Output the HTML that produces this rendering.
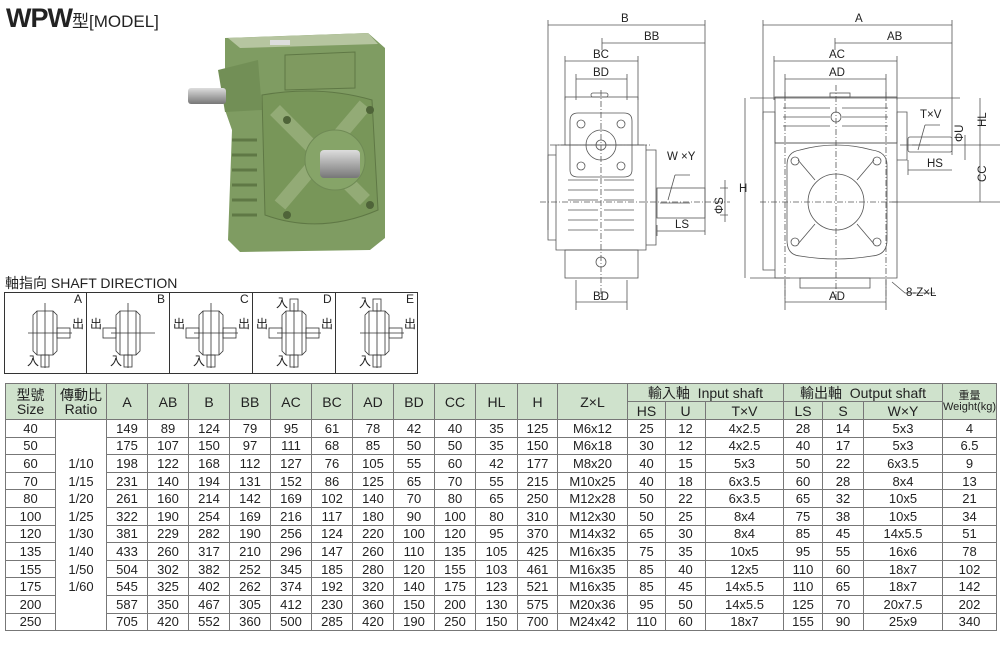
<!DOCTYPE html>
<html><head><meta charset="utf-8">
<style>
body{margin:0;width:1000px;height:645px;background:#fff;position:relative;overflow:hidden;font-family:"Liberation Sans","Noto Sans CJK TC",sans-serif;color:#222}
.abs{position:absolute}
table{border-collapse:collapse;position:absolute;left:5px;top:383px;table-layout:fixed;font-size:13px}
td,th{border:1px solid #777;text-align:center;padding:0;font-weight:normal;line-height:1}
th{background:#cfe2cc;height:17px;font-size:14px}
td{height:16.6px}
td.r{border-top:none;border-bottom:none}
</style></head><body>
<div class="abs" style="left:6px;top:3px;font-size:27px;font-weight:bold;letter-spacing:-1px">WPW<span style="font-size:17px;font-weight:normal;letter-spacing:0">型[MODEL]</span></div>

<!-- photo -->
<svg class="abs" style="left:180px;top:25px" width="215" height="235" viewBox="180 25 215 235">
<defs><linearGradient id="sh" x1="0" y1="0" x2="0" y2="1"><stop offset="0" stop-color="#ddd"/><stop offset=".5" stop-color="#aaa"/><stop offset="1" stop-color="#777"/></linearGradient></defs>
<path d="M225 38 L368 33 L385 48 L385 238 L370 250 L240 252 L228 240 L232 130 L225 110Z" fill="#7f9c62"/>
<path d="M228 38 L368 33 L378 44 L240 48Z" fill="#b6c5a0"/>
<rect x="270" y="40" width="20" height="5" fill="#ddd"/>
<path d="M285 55 L355 52 L355 88 L285 90Z" fill="#7f9a60" stroke="#5f7845"/>
<path d="M258 60 L262 110 L225 112 L218 70Z" fill="#728f56"/>
<rect x="188" y="88" width="38" height="16" rx="3" fill="url(#sh)"/>
<path d="M262 95 Q320 85 372 100 L378 210 Q320 235 265 215Z" fill="#789659" stroke="#5f7845"/>
<path d="M275 110 L365 200 M365 105 L280 205" stroke="#93ab76" stroke-width="14"/>
<circle cx="335" cy="160" r="30" fill="#86a468" stroke="#6f8a55"/>
<rect x="320" y="150" width="40" height="28" rx="4" fill="url(#sh)"/>
<g fill="#4f6439"><circle cx="287" cy="120" r="4"/><circle cx="370" cy="110" r="4"/><circle cx="287" cy="215" r="4"/><circle cx="370" cy="205" r="4"/></g>
<g stroke="#5f7845" stroke-width="3"><path d="M232 140h25M232 155h25M232 170h25M232 185h25M232 200h25M232 215h25"/></g>
</svg>

<div class="abs" style="left:5px;top:273px;font-size:14px">軸指向 SHAFT DIRECTION</div>
<svg class="abs" style="left:0;top:0" width="1000" height="380">
<rect x="4.5" y="292.5" width="413" height="81" fill="none" stroke="#333"/>
<g stroke="#333"><path d="M86.5 292v81M169.5 292v81M252.5 292v81M335.5 292v81"/></g>
<defs><g id="sym" fill="none" stroke="#333" stroke-width="0.8">
<path d="M-12 -18 L-8 -22 L8 -22 L12 -18 L12 18 L8 22 L-8 22 L-12 18Z"/>
<path d="M-8 -22V22M8 -22V22"/>
<path d="M0 -30V35M-17 0H27"/>
</g></defs>
<g font-size="12" fill="#222">
<use href="#sym" x="45" y="333"/><rect x="57" y="328" width="13" height="10" fill="none" stroke="#333" stroke-width=".8"/><rect x="41" y="355" width="8" height="12" fill="none" stroke="#333" stroke-width=".8"/>
<text x="74" y="303">A</text><text x="72" y="328">出</text><text x="27" y="365">入</text>
<use href="#sym" x="128" y="333"/><rect x="103" y="328" width="13" height="10" fill="none" stroke="#333" stroke-width=".8"/><rect x="124" y="355" width="8" height="12" fill="none" stroke="#333" stroke-width=".8"/>
<text x="157" y="303">B</text><text x="90" y="328">出</text><text x="110" y="365">入</text>
<use href="#sym" x="211" y="333"/><rect x="186" y="328" width="13" height="10" fill="none" stroke="#333" stroke-width=".8"/><rect x="223" y="328" width="13" height="10" fill="none" stroke="#333" stroke-width=".8"/><rect x="207" y="355" width="8" height="12" fill="none" stroke="#333" stroke-width=".8"/>
<text x="240" y="303">C</text><text x="173" y="328">出</text><text x="238" y="328">出</text><text x="193" y="365">入</text>
<use href="#sym" x="294" y="333"/><rect x="269" y="328" width="13" height="10" fill="none" stroke="#333" stroke-width=".8"/><rect x="306" y="328" width="13" height="10" fill="none" stroke="#333" stroke-width=".8"/><rect x="290" y="355" width="8" height="12" fill="none" stroke="#333" stroke-width=".8"/><rect x="290" y="299" width="8" height="12" fill="none" stroke="#333" stroke-width=".8"/>
<text x="323" y="303">D</text><text x="256" y="328">出</text><text x="321" y="328">出</text><text x="276" y="365">入</text><text x="276" y="307">入</text>
<use href="#sym" x="377" y="333"/><rect x="389" y="328" width="13" height="10" fill="none" stroke="#333" stroke-width=".8"/><rect x="373" y="355" width="8" height="12" fill="none" stroke="#333" stroke-width=".8"/><rect x="373" y="299" width="8" height="12" fill="none" stroke="#333" stroke-width=".8"/>
<text x="406" y="303">E</text><text x="404" y="328">出</text><text x="359" y="365">入</text><text x="359" y="307">入</text>
</g>

<g fill="none" stroke="#555" stroke-width="0.8">
<path d="M548 25H705M602 43H705M565 61H638M576 79H627M576 302H627M657 231H705"/>
<path d="M548 20V230M705 20V235M602 38V50M565 56V100M638 56V100M576 74V100M627 74V100M576 280V310M627 280V310M657 225V236"/>
<rect x="565" y="97" width="73" height="48"/>
<path d="M578 113 L624 113 Q632 113 632 121 L632 170 Q632 177 624 177 L578 177 Q570 177 570 170 L570 121 Q570 113 578 113Z"/>
<circle cx="601" cy="145" r="15"/><circle cx="601" cy="145" r="5"/>
<circle cx="581" cy="124" r="4"/><circle cx="621" cy="124" r="4"/><circle cx="581" cy="166" r="4"/><circle cx="621" cy="166" r="4"/>
<path d="M556 145H646V250H556Z M548 155H556V240H548Z M646 150H656V245H646Z"/>
<path d="M568 180H598M568 190H598M568 200H598M568 210H598M568 220H598M568 230H598M604 180H634M604 190H634M604 200H634M604 210H634M604 220H634M604 230H634"/>
<rect x="565" y="250" width="73" height="28"/><circle cx="601" cy="262" r="5"/>
<rect x="591" y="93" width="17" height="4" rx="2"/>
<rect x="657" y="188" width="48" height="30"/><path d="M660 203H690"/>
<path d="M720 188H728M720 215H728M725 180V222"/>
<path d="M675 175 L668 200 M675 175 H690"/>
<path stroke-dasharray="6 2 1 2" d="M601 90V300M540 202H730M550 145H650"/>
<path d="M763 25H952M835 43H952M774 61H897M785 79H886M785 302H886M908 170H952"/>
<path d="M763 20V120M952 20V155M835 38V50M774 56V100M897 56V100M785 74V100M886 74V100M785 280V310M886 280V310M908 160V175"/>
<rect x="775" y="97" width="122" height="46"/>
<path d="M783 108H830M783 117H830M783 126H830M842 108H888M842 117H888M842 126H888"/>
<circle cx="836" cy="117" r="5"/>
<rect x="830" y="93" width="20" height="4"/>
<path d="M775 143H897V278H775Z M763 112H775V270H763Z M897 112H907V160H897Z"/>
<path d="M800 150 Q836 140 872 150 Q887 152 887 165 L887 240 Q887 255 872 256 Q836 262 800 256 Q787 255 787 240 L787 165 Q787 152 800 150Z"/>
<circle cx="836" cy="202" r="28"/>
<path d="M798 160L815 180M874 160L857 180M798 244L815 224M874 244L857 224"/>
<circle cx="795" cy="161" r="4"/><circle cx="877" cy="161" r="4"/><circle cx="795" cy="242" r="4"/><circle cx="877" cy="242" r="4"/>
<rect x="800" y="278" width="70" height="10"/>
<rect x="908" y="137" width="44" height="15" rx="2"/><path d="M912 145H930"/>
<path d="M750 98H960M750 278H790M745 98V278M900 145H1000M890 202H1000M980 98V202M965 135V160"/>
<path d="M925 125L918 150M925 125H940"/>
<path d="M892 282 L905 293H935"/>
<path stroke-dasharray="6 2 1 2" d="M836 85V300M760 202H900M785 92V300M886 92V300"/>
</g>
<g font-size="11.5" fill="#222">
<text x="621" y="22">B</text><text x="644" y="40">BB</text><text x="593" y="58">BC</text><text x="593" y="76">BD</text><text x="593" y="300">BD</text>
<text x="675" y="228">LS</text><text x="667" y="160">W ×Y</text><text x="739" y="192">H</text>
<text x="855" y="22">A</text><text x="887" y="40">AB</text><text x="829" y="58">AC</text><text x="829" y="76">AD</text><text x="829" y="300">AD</text>
<text x="920" y="118">T×V</text><text x="927" y="167">HS</text><text x="906" y="296">8-Z×L</text>
<text transform="translate(723,214) rotate(-90)">ΦS</text><text transform="translate(963,142) rotate(-90)">ΦU</text>
<text transform="translate(986,127) rotate(-90)">HL</text><text transform="translate(986,182) rotate(-90)">CC</text>
</g>
</svg>

<table>
<colgroup><col style="width:50px"><col style="width:51px"><col style="width:41px"><col style="width:41px"><col style="width:41px"><col style="width:41px"><col style="width:41px"><col style="width:41px"><col style="width:41px"><col style="width:41px"><col style="width:41px"><col style="width:42px"><col style="width:40px"><col style="width:70px"><col style="width:38px"><col style="width:40px"><col style="width:78px"><col style="width:39px"><col style="width:41px"><col style="width:79px"><col style="width:50px"></colgroup>
<tr><th rowspan="2">型號<br>Size</th><th rowspan="2">傳動比<br>Ratio</th><th rowspan="2">A</th><th rowspan="2">AB</th><th rowspan="2">B</th><th rowspan="2">BB</th><th rowspan="2">AC</th><th rowspan="2">BC</th><th rowspan="2">AD</th><th rowspan="2">BD</th><th rowspan="2">CC</th><th rowspan="2">HL</th><th rowspan="2">H</th><th rowspan="2">Z×L</th><th colspan="3">輸入軸&nbsp; Input shaft</th><th colspan="3">輸出軸&nbsp; Output shaft</th><th rowspan="2" style="font-size:11px">重量<br>Weight(kg)</th></tr>
<tr><th>HS</th><th>U</th><th>T×V</th><th>LS</th><th>S</th><th>W×Y</th></tr>
<tr><td>40</td><td class="r" style="border-top:1px solid #777"></td><td>149</td><td>89</td><td>124</td><td>79</td><td>95</td><td>61</td><td>78</td><td>42</td><td>40</td><td>35</td><td>125</td><td>M6x12</td><td>25</td><td>12</td><td>4x2.5</td><td>28</td><td>14</td><td>5x3</td><td>4</td></tr>
<tr><td>50</td><td class="r"></td><td>175</td><td>107</td><td>150</td><td>97</td><td>111</td><td>68</td><td>85</td><td>50</td><td>50</td><td>35</td><td>150</td><td>M6x18</td><td>30</td><td>12</td><td>4x2.5</td><td>40</td><td>17</td><td>5x3</td><td>6.5</td></tr>
<tr><td>60</td><td class="r">1/10</td><td>198</td><td>122</td><td>168</td><td>112</td><td>127</td><td>76</td><td>105</td><td>55</td><td>60</td><td>42</td><td>177</td><td>M8x20</td><td>40</td><td>15</td><td>5x3</td><td>50</td><td>22</td><td>6x3.5</td><td>9</td></tr>
<tr><td>70</td><td class="r">1/15</td><td>231</td><td>140</td><td>194</td><td>131</td><td>152</td><td>86</td><td>125</td><td>65</td><td>70</td><td>55</td><td>215</td><td>M10x25</td><td>40</td><td>18</td><td>6x3.5</td><td>60</td><td>28</td><td>8x4</td><td>13</td></tr>
<tr><td>80</td><td class="r">1/20</td><td>261</td><td>160</td><td>214</td><td>142</td><td>169</td><td>102</td><td>140</td><td>70</td><td>80</td><td>65</td><td>250</td><td>M12x28</td><td>50</td><td>22</td><td>6x3.5</td><td>65</td><td>32</td><td>10x5</td><td>21</td></tr>
<tr><td>100</td><td class="r">1/25</td><td>322</td><td>190</td><td>254</td><td>169</td><td>216</td><td>117</td><td>180</td><td>90</td><td>100</td><td>80</td><td>310</td><td>M12x30</td><td>50</td><td>25</td><td>8x4</td><td>75</td><td>38</td><td>10x5</td><td>34</td></tr>
<tr><td>120</td><td class="r">1/30</td><td>381</td><td>229</td><td>282</td><td>190</td><td>256</td><td>124</td><td>220</td><td>100</td><td>120</td><td>95</td><td>370</td><td>M14x32</td><td>65</td><td>30</td><td>8x4</td><td>85</td><td>45</td><td>14x5.5</td><td>51</td></tr>
<tr><td>135</td><td class="r">1/40</td><td>433</td><td>260</td><td>317</td><td>210</td><td>296</td><td>147</td><td>260</td><td>110</td><td>135</td><td>105</td><td>425</td><td>M16x35</td><td>75</td><td>35</td><td>10x5</td><td>95</td><td>55</td><td>16x6</td><td>78</td></tr>
<tr><td>155</td><td class="r">1/50</td><td>504</td><td>302</td><td>382</td><td>252</td><td>345</td><td>185</td><td>280</td><td>120</td><td>155</td><td>103</td><td>461</td><td>M16x35</td><td>85</td><td>40</td><td>12x5</td><td>110</td><td>60</td><td>18x7</td><td>102</td></tr>
<tr><td>175</td><td class="r">1/60</td><td>545</td><td>325</td><td>402</td><td>262</td><td>374</td><td>192</td><td>320</td><td>140</td><td>175</td><td>123</td><td>521</td><td>M16x35</td><td>85</td><td>45</td><td>14x5.5</td><td>110</td><td>65</td><td>18x7</td><td>142</td></tr>
<tr><td>200</td><td class="r"></td><td>587</td><td>350</td><td>467</td><td>305</td><td>412</td><td>230</td><td>360</td><td>150</td><td>200</td><td>130</td><td>575</td><td>M20x36</td><td>95</td><td>50</td><td>14x5.5</td><td>125</td><td>70</td><td>20x7.5</td><td>202</td></tr>
<tr><td>250</td><td class="r" style="border-bottom:1px solid #777"></td><td>705</td><td>420</td><td>552</td><td>360</td><td>500</td><td>285</td><td>420</td><td>190</td><td>250</td><td>150</td><td>700</td><td>M24x42</td><td>110</td><td>60</td><td>18x7</td><td>155</td><td>90</td><td>25x9</td><td>340</td></tr>
</table>
</body></html>
